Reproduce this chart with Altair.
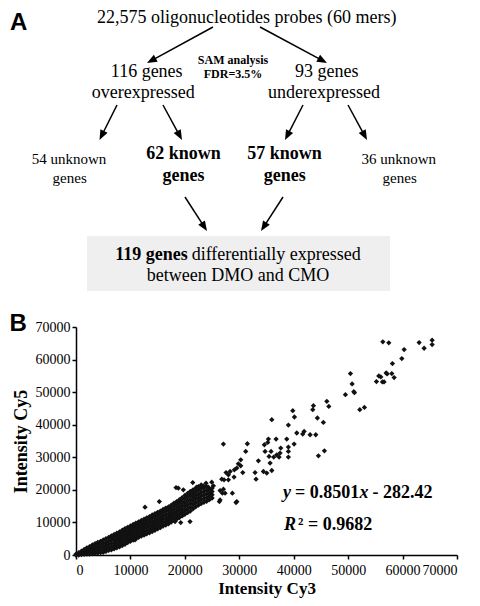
import math
import altair as alt
import pandas as pd

SERIF = "Liberation Serif"
SANS = "Liberation Sans"

# ---------------- Panel B: scatter data (Intensity Cy3, Intensity Cy5) ----------------
# dense core, read column by column: (Cy3, [Cy5 values])
band = [
    (0, [0, 300]), (500, [0, 350, 700]), (1000, [100, 600, 1200]),
    (1500, [200, 700, 1200, 1700]), (2000, [300, 900, 1500, 2200]),
    (2500, [300, 1000, 1800, 2600]), (3000, [400, 1100, 1800, 2500, 3100]),
    (3500, [500, 1200, 2000, 2800, 3500]), (4000, [600, 1400, 2200, 3000, 3900]),
    (4500, [700, 1500, 2400, 3300, 4200]), (5000, [800, 1600, 2500, 3500, 4600]),
    (5500, [1100, 2000, 2900, 3900, 5000]), (6000, [1400, 2300, 3300, 4300, 5400]),
    (6500, [1600, 2500, 3500, 4500, 5200, 5900]), (7000, [1900, 2800, 3700, 4600, 5500, 6300]),
    (7500, [2200, 3100, 4000, 4900, 5800, 6700]), (8000, [2500, 3400, 4300, 5200, 6100, 7100]),
    (8500, [2900, 3800, 4700, 5700, 6600, 7600]), (9000, [3300, 4200, 5100, 6100, 7100, 8100]),
    (9500, [3800, 4700, 5600, 6600, 7500, 8500]), (10000, [4200, 5100, 6000, 7000, 8000, 8900]),
    (10500, [4600, 5500, 6500, 7500, 8500, 9400]), (11000, [5000, 5900, 6900, 7900, 8900, 9800]),
    (11500, [5400, 6300, 7300, 8300, 9300, 10200]), (12000, [5800, 6700, 7700, 8700, 9700, 10600]),
    (12500, [6100, 7100, 8100, 9100, 10100, 11000]), (13000, [6500, 7500, 8500, 9500, 10500, 11400]),
    (13500, [6800, 7800, 8800, 9800, 10800, 11800]), (14000, [7200, 8200, 9200, 10200, 11300, 12300]),
    (14500, [7600, 8600, 9600, 10600, 11700, 12700]), (15000, [8000, 9000, 10000, 11000, 12100, 13100]),
    (15500, [8400, 9400, 10400, 11400, 12500, 13500]), (16000, [8900, 9900, 10900, 11900, 13000, 14000]),
    (16500, [9200, 10200, 11200, 12300, 13400, 14400]), (17000, [9600, 10600, 11600, 12700, 13800, 14800]),
    (17500, [10100, 11100, 12100, 13200, 14300, 15300]), (18000, [10600, 11600, 12700, 13800, 14900, 15900]),
    (18500, [11000, 12100, 13200, 14300, 15400, 16400]), (19000, [11500, 12600, 13700, 14800, 15900, 17000]),
    (19500, [12000, 13100, 14200, 15300, 16500, 17600]), (20000, [12500, 13700, 14900, 16000, 17200, 18300]),
    (20500, [13000, 14200, 15400, 16600, 17800, 18900]), (21000, [13500, 14700, 15900, 17100, 18300, 19500]),
    (21500, [14200, 15400, 16600, 17800, 18900, 20000]), (22000, [14800, 16000, 17200, 18300, 19400, 20500]),
    (22500, [15300, 16500, 17600, 18700, 19900, 21000]), (23000, [15800, 17000, 18100, 19200, 20400, 21500]),
    (23500, [16200, 17300, 18400, 19500, 20600]), (24000, [16500, 17600, 18700, 19800, 21000]),
    (24500, [17000, 18000, 19000, 20000]), (25000, [17500, 18500, 19500, 20500]),
]

upper_pts = [
    (56370, 65450), (57470, 65140), (63040, 65230), (63960, 63480), (65430, 65940), (65430, 64620),
    (60290, 63080), (59860, 60310), (58140, 58770), (50420, 55700), (55630, 54990), (56000, 54680),
    (56980, 55900), (57160, 55600), (58020, 55700), (58450, 54460), (55200, 53230), (56300, 53130),
    (56600, 53130), (50730, 52520), (51040, 50150), (51160, 49840), (49500, 49230), (52140, 44620),
    (52990, 45320), (46080, 47170), (46450, 45630), (43620, 45850), (43500, 44620), (39830, 44310),
    (40130, 42370), (44350, 42060), (45450, 40710), (39020, 39900), (35970, 41540),
    (41910, 37940), (41660, 37140), (40560, 37450), (43010, 36920), (44050, 36920),
    (44540, 30460), (45640, 32000),
]
mid_pts = [
    (27080, 34060), (31480, 34150), (31180, 31790), (35350, 35600), (36760, 35600), (34610, 33850),
    (35230, 34550), (38720, 35600), (40070, 34060), (39020, 33140), (39020, 31790), (39020, 30060),
    (37620, 32830), (37490, 31290), (37310, 30060), (36880, 30770), (36330, 30060), (35840, 31790),
    (35470, 30250), (34740, 31790), (35660, 28210), (35970, 25940), (35050, 25140), (34430, 25630),
    (33510, 28920), (32900, 25320), (33080, 23290), (30270, 29230), (29830, 28000), (30270, 27380),
    (29540, 26680), (30640, 25320), (29100, 26150), (28310, 25630), (28000, 24620), (27570, 25320),
    (29040, 23910), (27200, 23080), (28000, 23080), (26780, 23290), (27080, 20220), (27390, 18990),
    (28730, 18990), (29540, 16400), (26340, 16400), (26470, 16920), (29400, 16100), (26900, 18990),
    (26470, 19790),
]
lower_pts = [
    (21450, 22250), (18380, 20710), (24940, 22370), (19720, 20000), (22180, 20830), (23400, 21230),
    (23890, 22060), (24320, 20830), (25240, 21230), (24630, 20000), (18800, 20520), (12680, 14670),
    (15310, 16400), (18200, 10250), (19240, 9940), (20950, 10250), (10840, 4620), (5020, 1540),
]

cy3, cy5 = [], []
for bx, ys in band:
    for by in ys:
        cy3.append(bx)
        cy5.append(by)
for px_, py_ in upper_pts + mid_pts + lower_pts:
    cy3.append(px_)
    cy5.append(py_)
scatter_df = pd.DataFrame({"cy3": cy3, "cy5": cy5})

ticks = [0, 10000, 20000, 30000, 40000, 50000, 60000, 70000]

# ---------------- Panel A: flow diagram (page coordinates) ----------------
top_text = ["22,575 oligonucleotides probes (60 mers)", "116 genes", "overexpressed",
            "93 genes", "underexpressed"]
top_x = [246.7, 146.7, 143.3, 326.7, 324.0]
top_y = [18, 72, 93, 72, 93]

sam_text = ["SAM analysis", "FDR=3.5%"]
sam_x = [233, 233]
sam_y = [60, 74]

unknown_text = ["54 unknown", "genes", "36 unknown", "genes"]
unknown_x = [69, 69.7, 398.8, 399.7]
unknown_y = [159.3, 178.3, 159.3, 178.3]

known_text = ["62 known", "genes", "57 known", "genes"]
known_x = [183.5, 183.5, 284.5, 284.7]
known_y = [154, 175.5, 154, 175.5]

box_x, box_x2, box_y, box_y2 = [87], [390], [236], [291]

arrow_x1 = [213, 260, 117, 163, 303, 348, 185, 283]
arrow_y1 = [27, 27, 105, 105, 105, 105, 197, 197]
arrow_x2 = [147, 327, 99.5, 182, 285, 367, 207, 261]
arrow_y2 = [63, 63, 140, 140, 140, 140, 231, 231]

XS = alt.Scale(domain=[0, 480], range=[-76, 404], nice=False, zero=False)
YS = alt.Scale(domain=[0, 606], range=[-327, 279], nice=False, zero=False)


def text_layer(texts, xs, ys, size, weight="normal", style="normal", align="center", font=SERIF):
    df = pd.DataFrame({"t": texts, "px": xs, "py": ys})
    return alt.Chart(df).mark_text(
        font=font, fontSize=size, fontWeight=weight, fontStyle=style,
        align=align, baseline="middle", color="black"
    ).encode(
        x=alt.X("px:Q", scale=XS, axis=None),
        y=alt.Y("py:Q", scale=YS, axis=None),
        text="t:N",
    )


# arrows: shaft ends under the head, head centred 5px back from the tip
HEAD = 5.0
rx1, ry1, rx2, ry2, hx, hy, ha = [], [], [], [], [], [], []
for x1, y1, x2, y2 in zip(arrow_x1, arrow_y1, arrow_x2, arrow_y2):
    dx, dy = x2 - x1, y2 - y1
    L = math.hypot(dx, dy)
    ux, uy = dx / L, dy / L
    cx, cy = x2 - ux * HEAD, y2 - uy * HEAD
    rx1.append(x1); ry1.append(y1); rx2.append(cx); ry2.append(cy)
    hx.append(cx); hy.append(cy)
    ha.append(math.degrees(math.atan2(dx, -dy)) % 360)
shaft_df = pd.DataFrame({"x1": rx1, "y1": ry1, "x2": rx2, "y2": ry2})
head_df = pd.DataFrame({"hx": hx, "hy": hy, "ang": ha})

axis_common = dict(
    values=ticks, format="d", grid=False,
    labelFont=SERIF, labelFontSize=14, labelColor="black",
    tickColor="black", tickSize=4, tickWidth=1.5,
    domainColor="black", domainWidth=1.5,
    titleFont=SERIF, titleFontWeight="bold", titleColor="black",
)

scatter = alt.Chart(scatter_df).mark_point(
    shape="diamond", filled=True, size=28, color="#111111", opacity=1
).encode(
    x=alt.X("cy3:Q", scale=alt.Scale(domain=[0, 70000], nice=False),
            axis=alt.Axis(title="Intensity Cy3", titleFontSize=17, titlePadding=3,
                          labelPadding=4, **axis_common)),
    y=alt.Y("cy5:Q", scale=alt.Scale(domain=[0, 70000], nice=False),
            axis=alt.Axis(title="Intensity Cy5", titleFontSize=18, titlePadding=5,
                          labelPadding=2, **axis_common)),
)

box = alt.Chart(pd.DataFrame({"x": box_x, "x2": box_x2, "y": box_y, "y2": box_y2})).mark_rect(
    color="#efefef"
).encode(
    x=alt.X("x:Q", scale=XS, axis=None), x2="x2:Q",
    y=alt.Y("y:Q", scale=YS, axis=None), y2="y2:Q",
)

shafts = alt.Chart(shaft_df).mark_rule(color="black", strokeWidth=1.5).encode(
    x=alt.X("x1:Q", scale=XS, axis=None), x2="x2:Q",
    y=alt.Y("y1:Q", scale=YS, axis=None), y2="y2:Q",
)

heads = alt.Chart(head_df).mark_point(
    shape="M0,-1L0.8,1L-0.8,1Z", filled=True, size=100, color="black", opacity=1, strokeWidth=0
).encode(
    x=alt.X("hx:Q", scale=XS, axis=None),
    y=alt.Y("hy:Q", scale=YS, axis=None),
    angle=alt.Angle("ang:Q", scale=None),
)

layers = [
    scatter, box, shafts, heads,
    text_layer(top_text, top_x, top_y, 18),
    text_layer(sam_text, sam_x, sam_y, 12, weight="bold"),
    text_layer(unknown_text, unknown_x, unknown_y, 15),
    text_layer(known_text, known_x, known_y, 18, weight="bold"),
    text_layer(["119 genes"], [187.7], [255], 18, weight="bold", align="right"),
    text_layer(["differentially expressed"], [191.7], [255], 18, align="left"),
    text_layer(["between DMO and CMO"], [238], [275.5], 18),
    text_layer(["A", "B"], [10, 9.5], [22.5, 324], 24, weight="bold", align="left", font=SANS),
    text_layer(["y", "x"], [283, 359.5], [493.3, 493.3], 18, weight="bold", style="italic", align="left"),
    text_layer(["= 0.8501", "- 282.42"], [295, 372.5], [493.3, 493.3], 18, weight="bold", align="left"),
    text_layer(["R"], [284], [525], 18, weight="bold", style="italic", align="left"),
    text_layer(["\u00b2 = 0.9682"], [298], [525], 18, weight="bold", align="left"),
]

chart = alt.layer(*layers).resolve_scale(x="independent", y="independent").properties(
    width=381, height=228,
    autosize=alt.AutoSizeParams(type="none"),
    padding={"left": 68, "top": 319, "right": 15, "bottom": 43},
    background="white",
).configure_view(stroke="transparent")

chart.save("out.html", embed_options={"renderer": "svg", "actions": False})
